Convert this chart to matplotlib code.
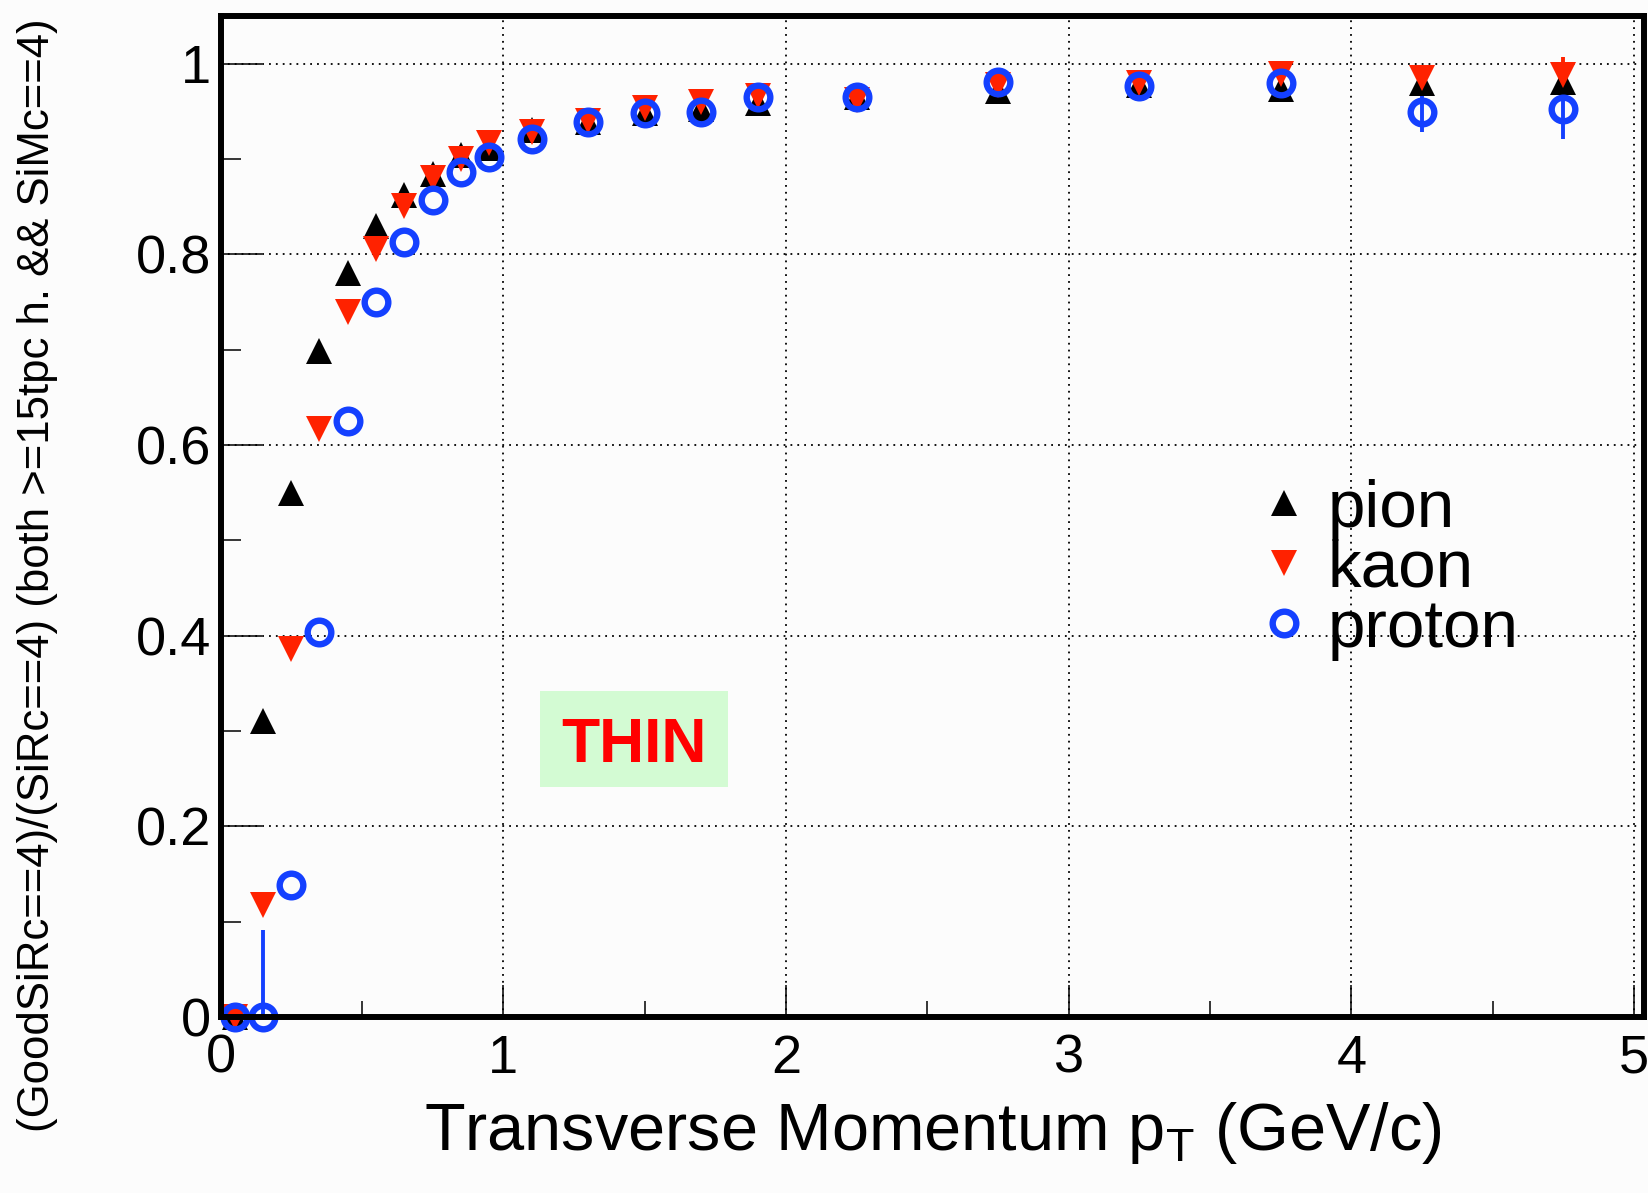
import matplotlib
matplotlib.use('Agg')
import matplotlib.pyplot as plt
from matplotlib.patches import Rectangle
from matplotlib.ticker import MultipleLocator, FuncFormatter

plt.rcParams['font.family'] = ['Liberation Sans', 'DejaVu Sans']
plt.rcParams['mathtext.fontset'] = 'custom'
plt.rcParams['mathtext.rm'] = 'Liberation Sans'

# bin centres in pT (GeV/c)
pt = [0.05, 0.15, 0.25, 0.35, 0.45, 0.55, 0.65, 0.75, 0.85, 0.95,
      1.1, 1.3, 1.5, 1.7, 1.9,
      2.25, 2.75, 3.25, 3.75, 4.25, 4.75]

pion = [0.0, 0.310, 0.550, 0.699, 0.780, 0.830, 0.862, 0.884, 0.904, 0.912,
        0.930, 0.939, 0.948, 0.952, 0.959,
        0.965, 0.971, 0.978, 0.973, 0.980, 0.981]
pion_err = [0, 0, 0, 0, 0, 0, 0, 0, 0, 0,
            0, 0, 0, 0, 0,
            0.004, 0.008, 0.006, 0.010, 0.010, 0.010]

kaon = [0.0, 0.118, 0.386, 0.617, 0.740, 0.806, 0.851, 0.880, 0.900, 0.917,
        0.928, 0.940, 0.954, 0.960, 0.966,
        0.962, 0.978, 0.980, 0.989, 0.985, 0.988]
kaon_err = [0, 0, 0, 0, 0, 0, 0, 0, 0, 0,
            0, 0, 0, 0, 0,
            0.008, 0.006, 0.006, 0.010, 0.010, 0.019]

proton = [0.0, 0.0, 0.138, 0.404, 0.625, 0.750, 0.813, 0.857, 0.886, 0.902,
          0.921, 0.939, 0.948, 0.949, 0.965,
          0.965, 0.981, 0.977, 0.980, 0.949, 0.952]
proton_err = [0, 0.091, 0, 0, 0, 0, 0, 0, 0, 0,
              0, 0, 0, 0, 0,
              0, 0.014, 0, 0, 0.021, 0.031]

BLACK = 'black'
RED = '#ff2200'
BLUE = '#1440ff'
BG = '#fcfcfc'

fig = plt.figure(figsize=(16.48, 11.93), dpi=100, facecolor=BG)
ax = fig.add_axes([0.1338, 0.1475, 0.9976 - 0.1338, 0.9866 - 0.1475])
ax.set_facecolor(BG)

# error bars first, markers on top (pion, kaon, proton)
for y, e, c in ((pion, pion_err, BLACK), (kaon, kaon_err, RED), (proton, proton_err, BLUE)):
    ax.errorbar(pt, y, yerr=e, fmt='none', ecolor=c, elinewidth=2.8, capsize=0,
                zorder=3)

h_pi, = ax.plot(pt, pion, ls='none', marker='^', ms=19, mfc=BLACK, mec=BLACK,
                mew=0, label='pion', zorder=4, clip_on=False)
h_k, = ax.plot(pt, kaon, ls='none', marker='v', ms=19, mfc=RED, mec=RED,
               mew=0, label='kaon', zorder=5, clip_on=False)
h_p, = ax.plot(pt, proton, ls='none', marker='o', ms=17, mfc='none', mec=BLUE,
               mew=4.6, label='proton', zorder=6, clip_on=False)

ax.set_xlim(0, 5.035)
ax.set_ylim(0, 1.05)

ax.xaxis.set_major_locator(MultipleLocator(1))
ax.xaxis.set_minor_locator(MultipleLocator(0.5))
ax.yaxis.set_major_locator(MultipleLocator(0.2))
ax.yaxis.set_minor_locator(MultipleLocator(0.1))
ax.yaxis.set_major_formatter(FuncFormatter(lambda v, p: '%g' % round(v, 2)))

ax.tick_params(axis='both', which='both', direction='in', top=False, right=False,
               width=1.1, labelsize=39)
ax.tick_params(axis='y', which='major', length=29.5, pad=7)
ax.tick_params(axis='y', which='minor', length=14.7)
ax.tick_params(axis='x', which='major', length=23, pad=12)
ax.tick_params(axis='x', which='minor', length=11.5)

for s in ax.spines.values():
    s.set_linewidth(4.3)
    s.set_zorder(7)

ax.grid(True, which='major', color='black', lw=1.3, linestyle=(0, (1, 2.8)))
ax.set_axisbelow(True)

ax.set_xlabel(r'Transverse Momentum p$_\mathregular{T}$ (GeV/c)', fontsize=48, labelpad=12)
fig.text(0.0228, 0.985,
         '(GoodSiRc==4)/(SiRc==4) (both >=15tpc h. && SiMc==4)',
         rotation=90, ha='center', va='top', fontsize=31.5)

ax.legend(handles=[h_pi, h_k, h_p], loc='upper left', frameon=False, fontsize=48.5,
          numpoints=1, handlelength=0.6, handletextpad=0.35, labelspacing=-0.03,
          borderpad=0, borderaxespad=0,
          bbox_to_anchor=(1264 / 1648, 1 - 479 / 1193), bbox_transform=fig.transFigure)

# "THIN" label box
ax.add_patch(Rectangle((0.2245, 0.2298), 0.3565 - 0.2245, 0.3257 - 0.2298,
                       transform=ax.transAxes, facecolor='#d3fbd3', edgecolor='none',
                       zorder=2))
ax.text((0.2245 + 0.3565) / 2, (0.2298 + 0.3257) / 2 - 0.007, 'THIN',
        transform=ax.transAxes, ha='center', va='center', color='#ff0000',
        fontsize=45, fontweight='bold', zorder=2.5)

fig.savefig('out.png', dpi=100, facecolor=BG)
